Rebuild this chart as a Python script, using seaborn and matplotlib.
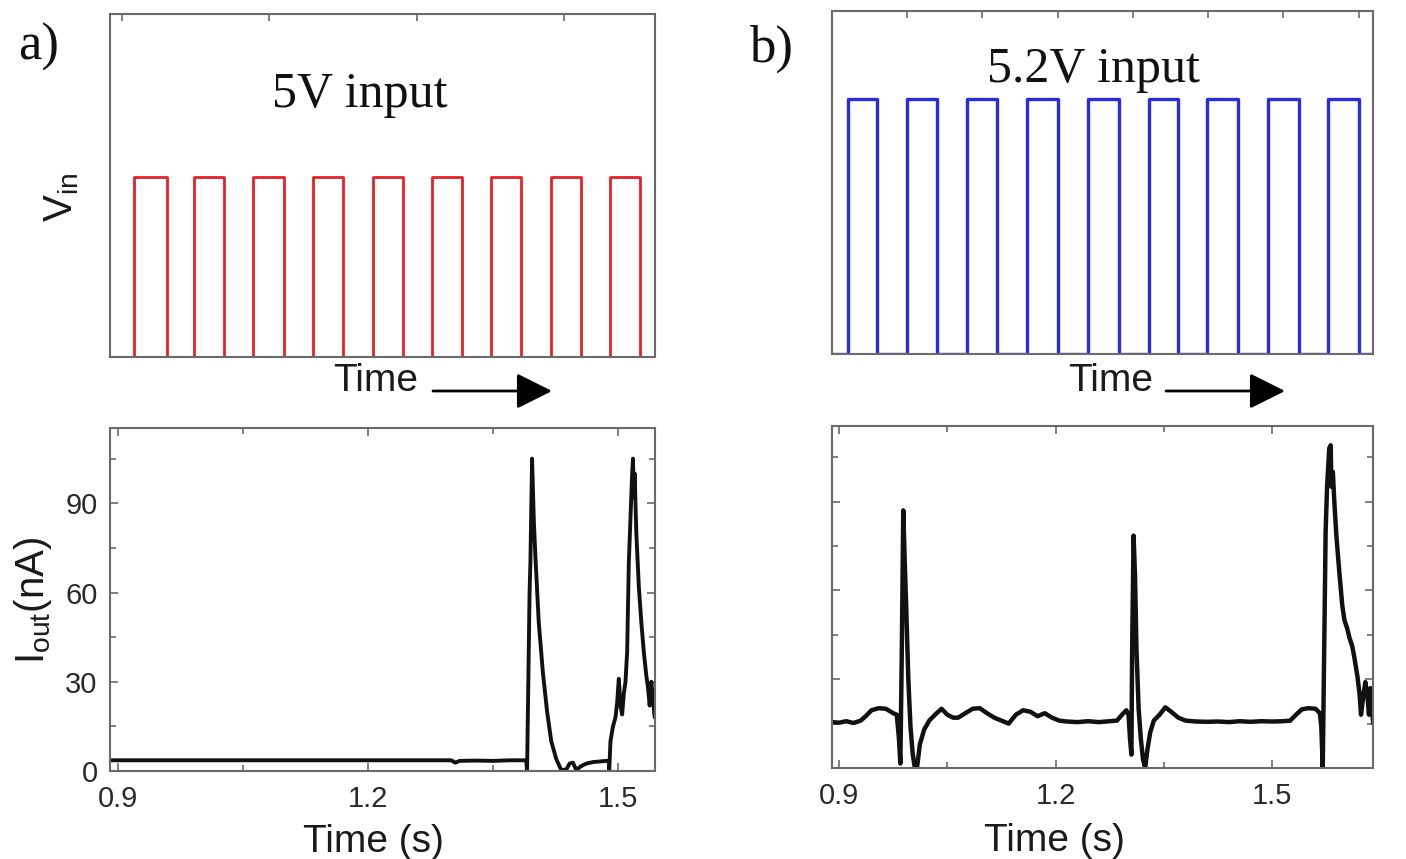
import numpy as np
import pandas as pd
import matplotlib
matplotlib.use("Agg")
import matplotlib.pyplot as plt
import seaborn as sns

# ---------------- data ----------------
# top panels: square-wave input pulses (time in arbitrary units)
rise_a = [0.085, 0.486, 0.891, 1.295, 1.702, 2.100, 2.502, 2.907, 3.308]
fall_a = [0.304, 0.693, 1.098, 1.502, 1.903, 2.304, 2.706, 3.110, 3.511]
level_a = 5.0
rise_b = [0.213, 1.000, 1.790, 2.590, 3.400, 4.210, 4.980, 5.800, 6.590]
fall_b = [0.600, 1.390, 2.190, 3.000, 3.810, 4.600, 5.400, 6.210, 7.000]
level_b = 5.2

# bottom-left: output current (nA) for 5 V input
t_a = [0.891, 1.000, 1.100, 1.200, 1.300, 1.305, 1.310, 1.330, 1.350, 1.370,
       1.390, 1.391, 1.392, 1.394, 1.395, 1.397, 1.399, 1.401, 1.405, 1.410,
       1.415, 1.420, 1.426, 1.432, 1.438, 1.442, 1.446, 1.450, 1.455, 1.462,
       1.470, 1.478, 1.486, 1.489, 1.4895, 1.491, 1.494, 1.497, 1.499, 1.501,
       1.503, 1.505, 1.507, 1.509, 1.511, 1.513, 1.515, 1.517, 1.518, 1.519,
       1.520, 1.522, 1.525, 1.528, 1.531, 1.534, 1.536, 1.538, 1.540, 1.542,
       1.544]
i_a = [3.6, 3.6, 3.6, 3.6, 3.6, 2.8, 3.4, 3.5, 3.4, 3.6,
       3.6, 0.0, 20, 60, 70, 105, 85, 72, 50, 33,
       20, 10, 4, 0.3, 0.5, 2.5, 2.8, 0.3, 1.5, 2.5,
       3.0, 3.2, 3.4, 3.4, 0.0, 10, 15, 18, 23, 31,
       22, 19, 26, 30, 40, 70, 85, 100, 105, 92,
       100, 80, 62, 50, 40, 32, 28, 22, 30, 24,
       18]

# bottom-right: output current (nA) for 5.2 V input
t_b = [0.890, 0.900, 0.910, 0.920, 0.930, 0.937, 0.945, 0.955, 0.965, 0.975,
       0.980, 0.983, 0.985, 0.987, 0.989, 0.991, 0.993, 0.996, 0.999, 1.002,
       1.005, 1.008, 1.012, 1.018, 1.025, 1.033, 1.042, 1.050, 1.058, 1.065,
       1.075, 1.085, 1.095, 1.105, 1.115, 1.125, 1.135, 1.145, 1.155, 1.165,
       1.175, 1.185, 1.195, 1.205, 1.215, 1.230, 1.245, 1.260, 1.275, 1.285,
       1.292, 1.298, 1.301, 1.303, 1.305, 1.306, 1.308, 1.310, 1.312, 1.315,
       1.318, 1.321, 1.324, 1.327, 1.331, 1.336, 1.344, 1.352, 1.360, 1.370,
       1.380, 1.395, 1.410, 1.425, 1.440, 1.455, 1.470, 1.485, 1.500, 1.515,
       1.525, 1.533, 1.541, 1.550, 1.560, 1.566, 1.568, 1.570, 1.572, 1.574,
       1.576, 1.579, 1.581, 1.582, 1.584, 1.586, 1.589, 1.593, 1.597, 1.600,
       1.604, 1.607, 1.611, 1.614, 1.618, 1.621, 1.623, 1.626, 1.629, 1.632,
       1.634, 1.636, 1.638, 1.640]
i_b = [15.5, 15.3, 15.8, 15.2, 16.0, 17.5, 19.5, 20.2, 20.0, 18.5,
       18.0, 10, 1.5, 40, 87, 70, 55, 30, 14, 5,
       0.0, 0.0, 8, 13, 16, 18, 20, 18, 17, 17,
       18.5, 20, 20.2, 18.5, 17, 16, 15, 18, 19.5, 19,
       17.5, 18.5, 17, 16, 15.7, 15.5, 15.8, 15.5, 15.8, 16,
       18, 19.5, 18, 10, 4.5, 40, 78.5, 65, 40, 20,
       10, 3, 0.0, 6, 12, 16, 18, 20.5, 19, 17,
       16, 15.7, 15.6, 15.7, 15.5, 15.8, 15.6, 15.8, 15.7, 15.8,
       16, 18, 19.8, 20.2, 20, 18.5, 14, 0.0, 40, 80,
       95, 108, 109, 95, 100, 90, 78, 66, 55, 50,
       47, 44, 41, 37, 31, 25, 18, 24, 29, 24,
       18, 27, 20, 15]

time_ticks = [0.9, 1.2, 1.5]
time_minor = [1.05, 1.35]
cur_ticks = [0, 30, 60, 90]
cur_minor = [15, 45, 75, 105]

# ---------------- style ----------------
sns.set_theme(style="ticks")
plt.rcParams["font.family"] = ["Liberation Sans", "DejaVu Sans"]
plt.rcParams["mathtext.fontset"] = "custom"
plt.rcParams["mathtext.rm"] = "Liberation Sans"

SPINE = "#6a6a6a"
W, H = 1406, 859
fig = plt.figure(figsize=(W / 100, H / 100), dpi=100)
fig.patch.set_facecolor("white")


def rect(l, t, r, b):
    return [l / W, 1 - b / H, (r - l) / W, (b - t) / H]


ax_tl = fig.add_axes(rect(110, 14, 655, 357))
ax_tr = fig.add_axes(rect(832, 11, 1373, 354))
ax_bl = fig.add_axes(rect(110, 428, 655, 771))
ax_br = fig.add_axes(rect(832, 426, 1373, 768))


def square(rises, falls, level, x0, x1):
    xs, ys = [x0], [0.0]
    for r, f in zip(rises, falls):
        xs += [r, r, f, f]
        ys += [0.0, level, level, 0.0]
    xs.append(x1)
    ys.append(0.0)
    return pd.DataFrame({"t": xs, "v": ys})


xl_a = (-0.081, 3.614)
xl_b = (0.0, 7.19)
sns.lineplot(data=square(rise_a, fall_a, level_a, *xl_a), x="t", y="v",
             ax=ax_tl, color="#e8202a", lw=2.0, estimator=None, sort=False)
sns.lineplot(data=square(rise_b, fall_b, level_b, *xl_b), x="t", y="v",
             ax=ax_tr, color="#2b2be0", lw=2.4, estimator=None, sort=False)

sns.lineplot(data=pd.DataFrame({"t": t_a, "i": i_a}), x="t", y="i", ax=ax_bl,
             color="#111111", lw=2.8, estimator=None, sort=False)
sns.lineplot(data=pd.DataFrame({"t": t_b, "i": i_b}), x="t", y="i", ax=ax_br,
             color="#111111", lw=3.2, estimator=None, sort=False)

ax_tl.set_xlim(*xl_a)
ax_tl.set_ylim(0, 9.53)
ax_tr.set_xlim(*xl_b)
ax_tr.set_ylim(0, 7.0)
ax_bl.set_xlim(0.8909, 1.5444)
ax_bl.set_ylim(0, 115.3)
ax_br.set_xlim(0.8903, 1.6396)
ax_br.set_ylim(0, 115.5)

for ax in (ax_tl, ax_tr, ax_bl, ax_br):
    for s in ax.spines.values():
        s.set_visible(True)
        s.set_color(SPINE)
        s.set_linewidth(1.5)
    ax.set_xlabel("")
    ax.set_ylabel("")
    ax.set_facecolor("white")

# top panels: only small inward ticks on the top spine
ax_tl.set_xticks([0, 1, 2, 3])
ax_tr.set_xticks([1, 2, 3, 4, 5, 6, 7])
for ax in (ax_tl, ax_tr):
    ax.set_yticks([])
    ax.tick_params(axis="x", which="both", top=True, bottom=False,
                   direction="in", length=5, width=1.2, color=SPINE,
                   labeltop=False, labelbottom=False)

# bottom panels
for ax, show_y in ((ax_bl, True), (ax_br, False)):
    ax.set_xticks(time_ticks)
    ax.set_xticks(time_minor, minor=True)
    ax.set_yticks(cur_ticks)
    ax.set_yticks(cur_minor, minor=True)
    ax.set_xticklabels([f"{v:.1f}" for v in time_ticks])
    ax.tick_params(axis="both", which="both", direction="in", top=True,
                   right=True, color=SPINE, width=1.2, labelsize=21,
                   labelcolor="#2a2a2a")
    ax.tick_params(axis="both", which="major", length=6)
    ax.tick_params(axis="both", which="minor", length=4)
    ax.tick_params(axis="x", pad=10)
    ax.tick_params(axis="y", pad=9, labelleft=show_y)
    ax.set_xlabel("Time (s)", fontsize=28, color="#1a1a1a")

ax_bl.xaxis.set_label_coords(0.483, -0.155)
ax_br.xaxis.set_label_coords(0.412, -0.16)

# y labels
fig.text(33 / W, 1 - 600 / H, r"$\mathregular{I_{out}}$(nA)", rotation=90,
         ha="center", va="center", fontsize=29, color="#1a1a1a")
fig.text(62 / W, 1 - 197 / H, r"$\mathregular{V_{in}}$", rotation=90,
         ha="center", va="center", fontsize=29, color="#1a1a1a")

# panel titles (serif)
serif = ["Liberation Serif", "DejaVu Serif"]
fig.text(360 / W, 1 - 107 / H, "5V input", ha="center", va="baseline",
         fontsize=36, family=serif, color="#111111")
fig.text(1093 / W, 1 - 82 / H, "5.2V input", ha="center", va="baseline",
         fontsize=36, family=serif, color="#111111")
fig.text(18 / W, 1 - 60 / H, "a)", ha="left", va="baseline",
         fontsize=38, family=serif, color="#111111")
fig.text(749 / W, 1 - 62 / H, "b)", ha="left", va="baseline",
         fontsize=38, family=serif, color="#111111")

# "Time ->" annotations under the top panels
for tx, a0, a1 in ((376, 433, 552), (1111, 1166, 1285)):
    fig.text(tx / W, 1 - 381 / H, "Time", ha="center", va="center",
             fontsize=28, color="#1a1a1a")
    ax_tl.annotate("", xy=(a1 / W, 1 - 391 / H), xytext=(a0 / W, 1 - 391 / H),
                   xycoords="figure fraction", textcoords="figure fraction",
                   annotation_clip=False,
                   arrowprops=dict(arrowstyle="-|>,head_length=0.4,head_width=0.2",
                                   mutation_scale=55, lw=2, color="black",
                                   shrinkA=0, shrinkB=0))

fig.savefig("out.png", dpi=100, facecolor="white")
